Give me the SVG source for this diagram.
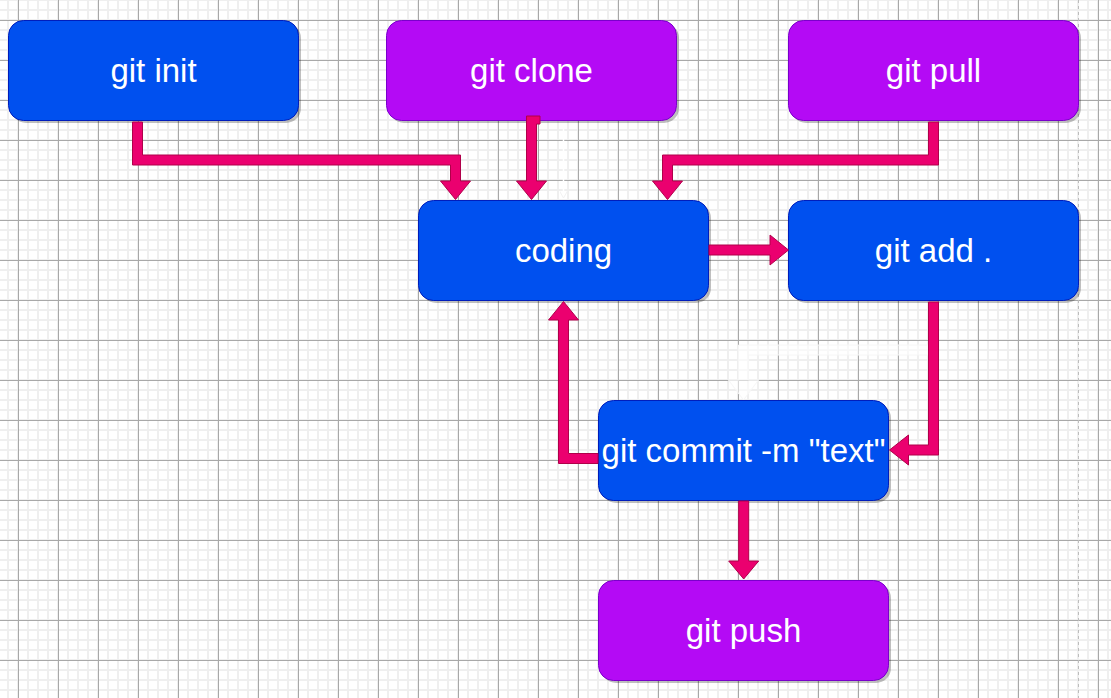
<svg xmlns="http://www.w3.org/2000/svg" width="1111" height="698" viewBox="0 0 1111 698">
<defs>
<pattern id="grid" patternUnits="userSpaceOnUse" x="18" y="20" width="40" height="40">
<rect x="0" y="0" width="40" height="40" fill="#ffffff"/>
<g fill="#efefef">
<rect x="9" y="0" width="2" height="40"/><rect x="19" y="0" width="2" height="40"/><rect x="29" y="0" width="2" height="40"/><rect x="39" y="0" width="1" height="40"/>
<rect x="0" y="9" width="40" height="2"/><rect x="0" y="19" width="40" height="2"/><rect x="0" y="29" width="40" height="2"/><rect x="0" y="39" width="40" height="1"/>
</g>
<g fill="#a8a8a8">
<rect x="0" y="0" width="1" height="40"/>
<rect x="0" y="0" width="40" height="1"/>
</g>
</pattern>
<marker id="ghostHead" markerWidth="8" markerHeight="8" refX="7" refY="4" orient="auto" markerUnits="userSpaceOnUse">
<path d="M0,0 L7,4 L0,8" fill="none" stroke="#f2f2f2" stroke-width="1"/>
</marker>
<style>
.node text{font-family:"Liberation Sans",Arial,Helvetica,sans-serif;font-size:33px;fill:#ffffff;text-anchor:middle}
.shadow{fill:#000000;fill-opacity:0.25}
.blue{fill:#0050ef;stroke:#001dbc;stroke-width:1}
.purple{fill:#b40af5;stroke:#7a00cc;stroke-width:1}
.flow{fill:#eb006f;stroke:#b0004a;stroke-width:1;stroke-linejoin:miter}
.ghost{fill:#ffffff;fill-opacity:0.55;stroke:#f6f6f6;stroke-width:1}
</style>
</defs>
<rect x="0" y="0" width="1111" height="698" fill="url(#grid)"/>
<line x1="1078.5" y1="0" x2="1078.5" y2="698" stroke="#bdbdbd" stroke-width="1" stroke-dasharray="3 3"/>

<g id="node-git-init" class="node">
<rect class="shadow" x="11" y="23" width="290" height="100" rx="15"/>
<rect class="blue" x="8.5" y="20.5" width="290" height="100" rx="15"/>
<text x="153.5" y="82">git init</text>
</g>
<g id="node-git-clone" class="node">
<rect class="shadow" x="389" y="23" width="290" height="100" rx="15"/>
<rect class="purple" x="386.5" y="20.5" width="290" height="100" rx="15"/>
<text x="531.5" y="82">git clone</text>
</g>
<g id="node-git-pull" class="node">
<rect class="shadow" x="791" y="23" width="290" height="100" rx="15"/>
<rect class="purple" x="788.5" y="20.5" width="290" height="100" rx="15"/>
<text x="933.5" y="82">git pull</text>
</g>
<g id="node-coding" class="node">
<rect class="shadow" x="421" y="203" width="290" height="100" rx="15"/>
<rect class="blue" x="418.5" y="200.5" width="290" height="100" rx="15"/>
<text x="563.5" y="262">coding</text>
</g>
<g id="node-git-add" class="node">
<rect class="shadow" x="791" y="203" width="290" height="100" rx="15"/>
<rect class="blue" x="788.5" y="200.5" width="290" height="100" rx="15"/>
<text x="933.5" y="262">git add .</text>
</g>
<g id="node-git-commit" class="node">
<rect class="shadow" x="601" y="403" width="290" height="100" rx="15"/>
<rect class="blue" x="598.5" y="400.5" width="290" height="100" rx="15"/>
<text x="743.5" y="462">git commit -m "text"</text>
</g>
<g id="node-git-push" class="node">
<rect class="shadow" x="601" y="583" width="290" height="100" rx="15"/>
<rect class="purple" x="598.5" y="580.5" width="290" height="100" rx="15"/>
<text x="743.5" y="642">git push</text>
</g>

<g id="connectors">
<path class="ghost" d="M928.5,345 L738.5,345 L738.5,380 L728.5,380 L743.5,400 L758.5,380 L748.5,380 L748.5,355 L928.5,355 Z"/>
<line x1="563.5" y1="124" x2="563.5" y2="198" stroke="#ffffff" stroke-width="1.5" marker-end="url(#ghostHead)"/>
<polygon class="flow" points="132.5,122 142.5,122 142.5,155 460.5,155 460.5,181 470.5,181 455.5,199.5 440.5,181 450.5,181 450.5,165 132.5,165"/>
<polygon class="flow" points="526.5,116 540,116 540,124 536.5,124 536.5,181 546.5,181 531.5,199.5 516.5,181 526.5,181"/>
<polygon class="flow" points="928.5,122 938.5,122 938.5,165 672.5,165 672.5,181 682.5,181 667.5,199.5 652.5,181 662.5,181 662.5,155 928.5,155"/>
<polygon class="flow" points="709,245 770,245 770,235 788.5,250 770,265 770,255 709,255"/>
<polygon class="flow" points="928.5,302 938.5,302 938.5,455 908.5,455 908.5,465 889.5,450 908.5,435 908.5,445 928.5,445"/>
<polygon class="flow" points="598,453.5 568.5,453.5 568.5,320 578.5,320 563.5,301.5 548.5,320 558.5,320 558.5,463.5 598,463.5"/>
<polygon class="flow" points="738.7,501 748.7,501 748.7,561 758.7,561 743.7,579 728.7,561 738.7,561"/>
</g>
</svg>
